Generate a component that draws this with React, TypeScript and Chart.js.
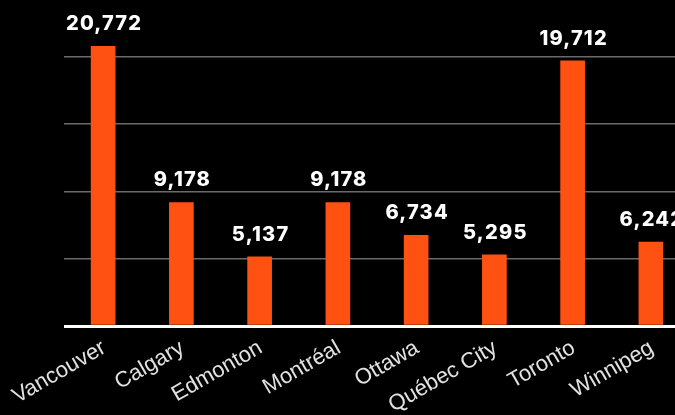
import React, { useEffect, useRef } from "react";
import { Chart, registerables } from "chart.js";

Chart.register(...registerables);

const categories = ["Vancouver", "Calgary", "Edmonton", "Montréal", "Ottawa", "Québec City", "Toronto", "Winnipeg"];
const values = [20772, 9178, 5137, 9178, 6734, 5295, 19712, 6242];
const gridTicks = [0, 5000, 10000, 15000, 20000];
const yMax = 24000;

const valueLabels = {
  id: "valueLabels",
  afterDatasetsDraw(chart: any) {
    const ctx = chart.ctx;
    const meta = chart.getDatasetMeta(0);
    ctx.save();
    ctx.fillStyle = "#ffffff";
    ctx.font = "800 20px Inter";
    try { (ctx as any).letterSpacing = "1.2px"; } catch (e) {}
    ctx.textAlign = "center";
    ctx.textBaseline = "alphabetic";
    meta.data.forEach((bar: any, i: number) => {
      const v = chart.data.datasets[0].data[i] as number;
      ctx.fillText(v.toLocaleString("en-US"), bar.x + 1, bar.y - 16);
    });
    ctx.restore();
  },
};

export default function App() {
  const ref = useRef<HTMLCanvasElement | null>(null);
  useEffect(() => {
    document.body.style.margin = "0";
    document.body.style.background = "#000";
    document.body.style.overflow = "hidden";
    const chart = new Chart(ref.current as HTMLCanvasElement, {
      type: "bar",
      data: {
        labels: categories,
        datasets: [
          {
            data: values,
            backgroundColor: "#ff5111",
            barThickness: 24,
          },
        ],
      },
      options: {
        responsive: false,
        animation: false,
        layout: { padding: { left: 64, right: 10, top: 3, bottom: 0 } },
        plugins: { legend: { display: false }, tooltip: { enabled: false } },
        scales: {
          x: {
            grid: { display: false, drawTicks: false },
            border: { display: false },
            ticks: {
              color: "#e2e2e2",
              font: { family: "Liberation Sans", size: 22 },
              minRotation: 30,
              maxRotation: 30,
              autoSkip: false,
              padding: 9,
              labelOffset: 1,
            },
            afterFit: (scale: any) => {
              scale.height = 89;
            },
          },
          y: {
            min: 0,
            max: yMax,
            afterBuildTicks: (scale: any) => {
              scale.ticks = gridTicks.map((v) => ({ value: v }));
            },
            ticks: { display: false },
            border: { display: false },
            grid: {
              drawTicks: false,
              color: (c: any) => (c.tick && c.tick.value === 0 ? "#ffffff" : "#6a6a6a"),
              lineWidth: (c: any) => (c.tick && c.tick.value === 0 ? 3 : 1.5),
            },
            afterFit: (scale: any) => {
              scale.width = 0;
            },
          },
        },
      },
      plugins: [valueLabels],
    });
    return () => chart.destroy();
  }, []);
  return (
    <div style={{ width: 675, height: 415, overflow: "hidden", background: "#000" }}>
      <canvas ref={ref} width={700} height={415} style={{ display: "block" }} />
    </div>
  );
}
